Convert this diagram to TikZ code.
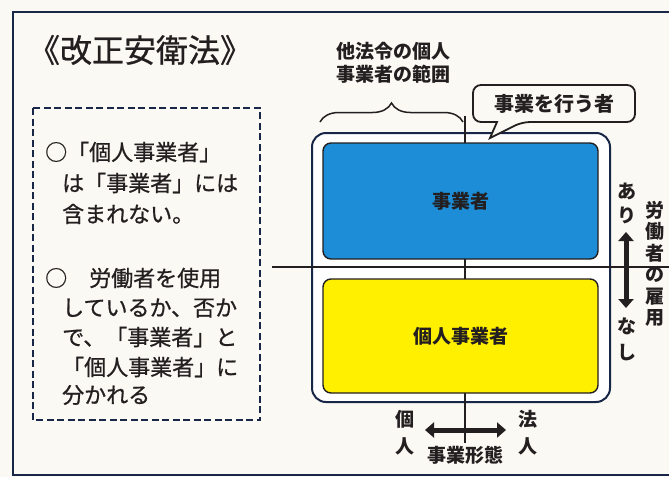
\documentclass[tikz,border=0pt]{standalone}
\usepackage{fontspec}
\setmainfont{Noto Sans CJK JP}
\newfontfamily\memofont{Noto Sans CJK JP}[FakeBold=0.8]
\usetikzlibrary{arrows.meta,decorations.pathreplacing}

\definecolor{bgpaper}{RGB}{251,249,243}
\definecolor{navy}{RGB}{24,38,72}
\definecolor{jigyoblue}{RGB}{28,141,214}
\definecolor{kojinyellow}{RGB}{255,240,0}
\definecolor{ink}{RGB}{35,31,32}

\begin{document}
\begin{tikzpicture}[x=1pt,y=-1pt,
	lbl/.style={text=ink,font=\bfseries\fontsize{19}{23}\selectfont,inner sep=0pt,align=center},
	memo/.style={text=ink,font=\memofont\fontsize{22}{26}\selectfont,inner sep=0pt,anchor=west},
	box/.style={draw=ink,line width=1.4pt,rounded corners=8pt,text=ink,
		font=\bfseries\fontsize{19}{22}\selectfont,minimum width=275pt},
	dblarrow/.style={{Triangle[length=9pt,width=15pt]}-{Triangle[length=9pt,width=15pt]},line width=5pt,ink}]
	\useasboundingbox (0,0) rectangle (669,477);
	\fill[bgpaper] (0,0) rectangle (669,477);
	\draw[navy,line width=2pt] (669,12) -- (13,12) -- (13,475) -- (669,475);
	
	\node[text=ink,font=\memofont\fontsize{32}{34}\selectfont,inner sep=0pt] (title) at (140,50) {《改正安衛法》};
	
	% memo box
	\draw[navy,line width=1.7pt,dash pattern=on 7pt off 3.5pt] (33,108) rectangle (260,420);
	\node[memo] (m1) at (45,152) {○「個人事業者」};
	\node[memo] (m2) at (62,183) {は「事業者」には};
	\node[memo] (m3) at (62,214) {含まれない。};
	\node[memo] (m4) at (45,278) {○　労働者を使用};
	\node[memo] (m5) at (62,308) {しているか、否か};
	\node[memo] (m6) at (62,337) {で、「事業者」と};
	\node[memo] (m7) at (62,367) {「個人事業者」に};
	\node[memo] (m8) at (62,395) {分かれる};
	
	\node[draw=navy,line width=2pt,fill=white,rounded corners=14pt,
		minimum width=298pt,minimum height=269pt] (outer) at (461,267.5) {};
	
	\coordinate (vtop) at (465,116);
	\coordinate (vbot) at (465,443);
	\coordinate (hleft) at (272,267);
	\coordinate (hright) at (669,267);
	\draw[ink,line width=1.2pt] (vtop) -- (vbot);
	\draw[ink,line width=1.2pt] (hleft) -- (hright);
	
	\node[box,fill=jigyoblue,minimum height=116pt] (jigyo) at (460.5,201) {事業者};
	\node[box,fill=kojinyellow,minimum height=114pt] (kojin) at (460.5,336) {個人事業者};
	
	% brace
	\draw[ink,line width=1.5pt,decorate,decoration={brace,amplitude=19pt}] (320,122) -- (463,122);
	\node[lbl] (hani) at (393,63) {他法令の個人\\事業者の範囲};
	
	% callout
	\draw[ink,line width=1.8pt,fill=bgpaper,rounded corners=8pt] (497,122) -- (473,122) -- (473,85)
		-- (635,85) -- (635,122) -- (522,122) [sharp corners] -- (490,138) -- cycle;
	\node[lbl,font=\bfseries\fontsize{20}{22}\selectfont] (gyosha) at (554,104) {事業を行う者};
	
	% employment axis
	\node[lbl,font=\bfseries\fontsize{19}{24}\selectfont] (ari) at (627,203) {あ\\り};
	\node[lbl,font=\bfseries\fontsize{19}{26}\selectfont] (nashi) at (627,339) {な\\し};
	\node[lbl,font=\bfseries\fontsize{19}{21.5}\selectfont] (koyo) at (655,264) {労\\働\\者\\の\\雇\\用};
	\coordinate (up) at (626,232);
	\coordinate (down) at (626,308);
	\draw[dblarrow] (up) -- (down);
	
	% business form axis
	\node[lbl,font=\bfseries\fontsize{19}{27}\selectfont] (kojin2) at (405,433) {個\\人};
	\node[lbl,font=\bfseries\fontsize{19}{27}\selectfont] (hojin) at (528,433) {法\\人};
	\node[lbl] (keitai) at (465,455) {事業形態};
	\coordinate (lft) at (425,430);
	\coordinate (rgt) at (506,430);
	\draw[dblarrow] (lft) -- (rgt);
\end{tikzpicture}
\end{document}
